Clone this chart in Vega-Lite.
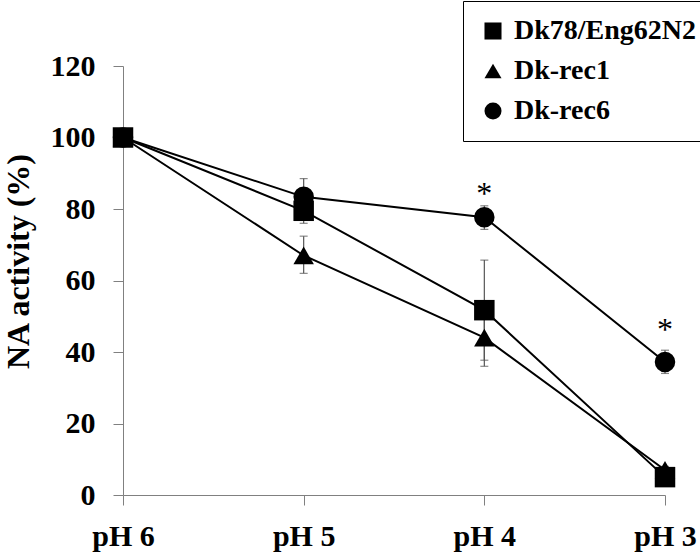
{
  "$schema": "https://vega.github.io/schema/vega-lite/v6.json",
  "description": "NA activity after exposure to decreasing pH for three viruses",
  "width": 542,
  "height": 429,
  "autosize": {"type": "none"},
  "padding": {"left": 123, "top": 66, "right": 35, "bottom": 59},
  "config": {
    "font": "Liberation Serif",
    "view": {"stroke": null},
    "axis": {"labelFont": "Liberation Serif", "titleFont": "Liberation Serif"},
    "legend": {"labelFont": "Liberation Serif"},
    "text": {"font": "Liberation Serif"}
  },
  "datasets": {
    "activity": [
      {"pH": "pH 6", "Strain": "Dk78/Eng62N2", "Activity": 100, "Low": 100, "High": 100},
      {"pH": "pH 5", "Strain": "Dk78/Eng62N2", "Activity": 79.5, "Low": 76, "High": 83},
      {"pH": "pH 4", "Strain": "Dk78/Eng62N2", "Activity": 51.7, "Low": 37.7, "High": 65.7},
      {"pH": "pH 3", "Strain": "Dk78/Eng62N2", "Activity": 5, "Low": 4, "High": 6},
      {"pH": "pH 6", "Strain": "Dk-rec1", "Activity": 100, "Low": 100, "High": 100},
      {"pH": "pH 5", "Strain": "Dk-rec1", "Activity": 67, "Low": 62, "High": 72.4},
      {"pH": "pH 4", "Strain": "Dk-rec1", "Activity": 44, "Low": 36, "High": 52},
      {"pH": "pH 3", "Strain": "Dk-rec1", "Activity": 7, "Low": 6, "High": 8},
      {"pH": "pH 6", "Strain": "Dk-rec6", "Activity": 100, "Low": 100, "High": 100},
      {"pH": "pH 5", "Strain": "Dk-rec6", "Activity": 83.4, "Low": 78.5, "High": 88.5},
      {"pH": "pH 4", "Strain": "Dk-rec6", "Activity": 77.7, "Low": 74.3, "High": 80.9},
      {"pH": "pH 3", "Strain": "Dk-rec6", "Activity": 37.2, "Low": 34, "High": 40.5}
    ],
    "stars": [
      {"pH": "pH 4", "Mark": "*", "Pos": 81.3},
      {"pH": "pH 3", "Mark": "*", "Pos": 43.3}
    ]
  },
  "data": {"name": "activity"},
  "encoding": {
    "x": {
      "field": "pH",
      "type": "ordinal",
      "scale": {"type": "point", "domain": ["pH 6", "pH 5", "pH 4", "pH 3"], "padding": 0},
      "axis": {
        "title": null,
        "labelAngle": 0,
        "labelFontSize": 30,
        "labelFontWeight": "bold",
        "labelColor": "black",
        "labelPadding": 16,
        "domainColor": "#808080",
        "tickColor": "#808080",
        "tickSize": 10
      }
    }
  },
  "layer": [
    {
      "mark": {"type": "rule", "color": "#555555", "strokeWidth": 1.2},
      "encoding": {
        "y": {
          "field": "Low",
          "type": "quantitative",
          "scale": {"domain": [0, 120]},
          "axis": {
            "title": "NA activity (%)",
            "values": [0, 20, 40, 60, 80, 100, 120],
            "grid": false,
            "titleFontSize": 32,
            "titleFontWeight": "bold",
            "titleColor": "black",
            "titleX": -105,
            "titleY": 195,
            "titleAlign": "center",
            "titleBaseline": "middle",
            "labelFontSize": 30,
            "labelFontWeight": "bold",
            "labelColor": "black",
            "labelPadding": 18,
            "domainColor": "#808080",
            "tickColor": "#808080",
            "tickSize": 10
          }
        },
        "y2": {"field": "High"}
      }
    },
    {
      "mark": {"type": "tick", "color": "#555555", "size": 8, "thickness": 1.2},
      "encoding": {"y": {"field": "Low", "type": "quantitative"}}
    },
    {
      "mark": {"type": "tick", "color": "#555555", "size": 8, "thickness": 1.2},
      "encoding": {"y": {"field": "High", "type": "quantitative"}}
    },
    {
      "mark": {"type": "line", "color": "black", "strokeWidth": 2},
      "encoding": {
        "y": {"field": "Activity", "type": "quantitative"},
        "detail": {"field": "Strain"}
      }
    },
    {
      "mark": {"type": "point", "filled": true, "opacity": 1, "size": 420, "color": "black"},
      "encoding": {
        "y": {"field": "Activity", "type": "quantitative"},
        "shape": {
          "field": "Strain",
          "type": "nominal",
          "scale": {"domain": ["Dk78/Eng62N2", "Dk-rec1", "Dk-rec6"], "range": ["square", "triangle-up", "circle"]},
          "legend": {
            "title": null,
            "orient": "none",
            "legendX": 340,
            "legendY": -65,
            "strokeColor": "black",
            "fillColor": "white",
            "padding": 16,
            "rowPadding": 12,
            "labelFont": "Liberation Serif",
            "labelFontSize": 28,
            "labelFontWeight": "bold",
            "labelColor": "black",
            "labelOffset": 7,
            "labelLimit": 400,
            "symbolSize": 290,
            "symbolFillColor": "black",
            "symbolStrokeColor": "black",
            "symbolOpacity": 1
          }
        }
      }
    },
    {
      "data": {"name": "stars"},
      "mark": {"type": "text", "font": "Liberation Serif", "fontSize": 32, "baseline": "alphabetic", "color": "black"},
      "encoding": {
        "y": {"field": "Pos", "type": "quantitative"},
        "text": {"field": "Mark"}
      }
    }
  ]
}
